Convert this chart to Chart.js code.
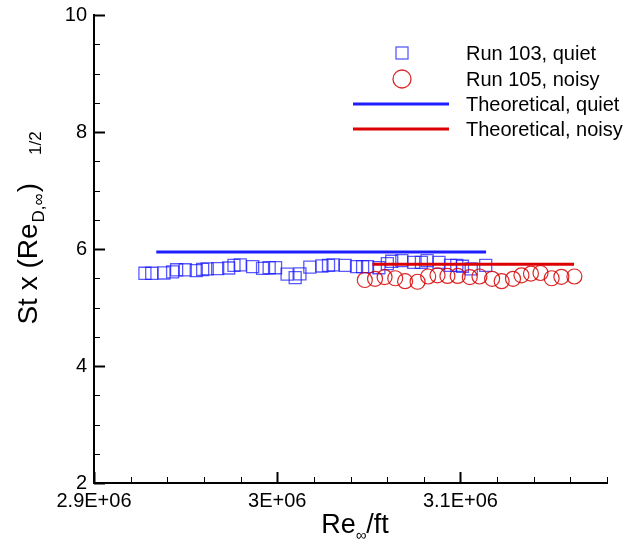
<!DOCTYPE html>
<html>
<head>
<meta charset="utf-8">
<script src="https://cdn.jsdelivr.net/npm/chart.js@4.4.0/dist/chart.umd.min.js"></script>
<style>
  html, body { margin: 0; padding: 0; background: #fff; }
</style>
</head>
<body>
<canvas id="canvas" width="634" height="550"></canvas>
<script>
// Run 103, quiet tunnel
let quietRe = [2.9278e6, 2.9315e6, 2.9382e6, 2.9429e6, 2.9451e6, 2.9498e6, 2.9558e6, 2.9593e6,
  2.9618e6, 2.9675e6, 2.9735e6, 2.9764e6, 2.9798e6, 2.9866e6, 2.992e6, 2.9956e6, 2.9991e6,
  3.0054e6, 3.0098e6, 3.0124e6, 3.0178e6, 3.0244e6, 3.028e6, 3.0305e6, 3.0371e6, 3.0433e6,
  3.0466e6, 3.0493e6, 3.0555e6, 3.0601e6, 3.0625e6, 3.068e6, 3.0745e6, 3.0787e6, 3.0818e6,
  3.0883e6, 3.0946e6, 3.098e6, 3.1011e6, 3.1059e6, 3.1138e6];
let quietSt = [5.585, 5.585, 5.59, 5.61, 5.645, 5.645, 5.63, 5.65,
  5.66, 5.665, 5.675, 5.72, 5.73, 5.7, 5.67, 5.68, 5.68,
  5.57, 5.51, 5.575, 5.69, 5.71, 5.72, 5.73, 5.72, 5.7,
  5.7, 5.7, 5.68, 5.75, 5.79, 5.8, 5.77, 5.77, 5.8,
  5.77, 5.72, 5.72, 5.705, 5.66, 5.72];

// Run 105, noisy tunnel
let noisyRe = [3.0478e6, 3.0534e6, 3.0586e6, 3.0644e6, 3.0698e6, 3.0766e6, 3.0824e6, 3.0875e6,
  3.0929e6, 3.0985e6, 3.1051e6, 3.1104e6, 3.1173e6, 3.1225e6, 3.1287e6, 3.1333e6, 3.1385e6,
  3.1437e6, 3.1498e6, 3.1551e6, 3.1622e6];
let noisySt = [5.47, 5.49, 5.52, 5.5, 5.45, 5.44, 5.53, 5.55,
  5.54, 5.54, 5.52, 5.53, 5.49, 5.45, 5.49, 5.55, 5.58,
  5.59, 5.5, 5.525, 5.53];

// theory lines
let theoryQuietRe = [2.934e6, 3.114e6];
let theoryQuietSt = [5.95, 5.95];
let theoryNoisyRe = [3.052e6, 3.162e6];
let theoryNoisySt = [5.74, 5.74];

let xTicks = [2.9e6, 3.0e6, 3.1e6];
let yTicks = [2, 4, 6, 8, 10];
let legendLabels = ["Run 103, quiet", "Run 105, noisy", "Theoretical, quiet", "Theoretical, noisy"];

const FONT = "'Liberation Sans', Arial, sans-serif";
const BLUE = "rgba(20, 20, 255, 0.7)";
const RED = "rgba(215, 0, 0, 0.85)";
const BLUE_LINE = "rgb(30, 30, 255)";
const RED_LINE = "rgb(220, 0, 0)";

function pairs(xs, ys) {
  let out = [];
  for (let i = 0; i < xs.length; i++) out.push({ x: xs[i], y: ys[i] });
  return out;
}

// inward tick marks on both axes
const tickMarks = {
  id: "tickMarks",
  afterDraw(chart) {
    let ctx = chart.ctx;
    let xs = chart.scales.x;
    let ys = chart.scales.y;
    let a = chart.chartArea;
    ctx.save();
    ctx.strokeStyle = "#000";
    for (let i = 0; i <= 14; i++) {
      let v = 2.9e6 + i * 2e4;
      let major = xTicks.some((t) => Math.abs(t - v) < 1);
      let px = Math.round(xs.getPixelForValue(v)) + 0.5;
      ctx.lineWidth = major ? 2 : 1;
      ctx.beginPath();
      ctx.moveTo(px, a.bottom);
      ctx.lineTo(px, a.bottom - (major ? 11 : 6));
      ctx.stroke();
    }
    for (let i = 0; i <= 16; i++) {
      let v = 2 + i * 0.5;
      let major = yTicks.indexOf(v) >= 0;
      let py = Math.round(ys.getPixelForValue(v)) + 0.5;
      ctx.lineWidth = major ? 2 : 1;
      ctx.beginPath();
      ctx.moveTo(a.left, py);
      ctx.lineTo(a.left + (major ? 11 : 6), py);
      ctx.stroke();
    }
    ctx.restore();
  },
};

// axis titles with sub/superscripts
function runs(ctx, parts, x, y) {
  for (let p of parts) {
    ctx.font = p.size + "px " + FONT;
    ctx.fillText(p.t, x, y + (p.dy || 0));
    x += ctx.measureText(p.t).width + (p.gap || 0);
  }
}
function runsWidth(ctx, parts) {
  let w = 0;
  for (let p of parts) {
    ctx.font = p.size + "px " + FONT;
    w += ctx.measureText(p.t).width + (p.gap || 0);
  }
  return w;
}

const axisTitles = {
  id: "axisTitles",
  afterDraw(chart) {
    let ctx = chart.ctx;
    ctx.save();
    ctx.fillStyle = "#000";
    ctx.textBaseline = "alphabetic";
    ctx.textAlign = "left";

    let xParts = [
      { t: "Re", size: 27 },
      { t: "\u221E", size: 15, dy: 7 },
      { t: "/ft", size: 27 },
    ];
    let xw = runsWidth(ctx, xParts);
    runs(ctx, xParts, 355 - xw / 2, 533);

    let yParts = [
      { t: "St x (Re", size: 28, gap: 1 },
      { t: "D,\u221E", size: 17, dy: 7, gap: 1 },
      { t: ")", size: 28, gap: 28 },
      { t: "1/2", size: 17, dy: 4 },
    ];
    let yw = runsWidth(ctx, yParts);
    ctx.translate(37, 228);
    ctx.rotate(-Math.PI / 2);
    runs(ctx, yParts, -yw / 2, 0);
    ctx.restore();
  },
};

// legend in the upper right of the plot
const legendBox = {
  id: "legendBox",
  afterDraw(chart) {
    let ctx = chart.ctx;
    let rows = [53, 79, 104, 129];
    ctx.save();
    ctx.font = "20px " + FONT;
    ctx.fillStyle = "#000";
    ctx.textBaseline = "middle";
    ctx.textAlign = "left";
    for (let i = 0; i < legendLabels.length; i++) {
      ctx.fillText(legendLabels[i], 466, rows[i] + 1);
    }
    ctx.lineWidth = 1.3;
    ctx.strokeStyle = BLUE;
    ctx.strokeRect(396, rows[0] - 6, 12, 12);
    ctx.strokeStyle = RED;
    ctx.beginPath();
    ctx.arc(402, rows[1], 9, 0, Math.PI * 2);
    ctx.stroke();
    ctx.lineWidth = 3;
    ctx.strokeStyle = BLUE_LINE;
    ctx.beginPath();
    ctx.moveTo(353, rows[2]);
    ctx.lineTo(449, rows[2]);
    ctx.stroke();
    ctx.strokeStyle = RED_LINE;
    ctx.beginPath();
    ctx.moveTo(353, rows[3]);
    ctx.lineTo(449, rows[3]);
    ctx.stroke();
    ctx.restore();
  },
};

let canvas = document.getElementById("canvas");
let stChart = new Chart(canvas.getContext("2d"), {
  type: "scatter",
  data: {
    datasets: [
      {
        label: legendLabels[2],
        type: "line",
        data: pairs(theoryQuietRe, theoryQuietSt),
        borderColor: BLUE_LINE,
        borderWidth: 3,
        pointRadius: 0,
        fill: false,
        order: 1,
      },
      {
        label: legendLabels[3],
        type: "line",
        data: pairs(theoryNoisyRe, theoryNoisySt),
        borderColor: RED_LINE,
        borderWidth: 3,
        pointRadius: 0,
        fill: false,
        order: 0,
      },
      {
        label: legendLabels[0],
        data: pairs(quietRe, quietSt),
        pointStyle: "rect",
        pointRadius: 8.5,
        borderColor: BLUE,
        backgroundColor: "rgba(0,0,0,0)",
        borderWidth: 1.3,
        order: 3,
      },
      {
        label: legendLabels[1],
        data: pairs(noisyRe, noisySt),
        pointStyle: "circle",
        pointRadius: 7.5,
        borderColor: RED,
        backgroundColor: "rgba(0,0,0,0)",
        borderWidth: 1.2,
        order: 2,
      },
    ],
  },
  options: {
    responsive: false,
    animation: false,
    layout: { padding: { top: 15, right: 27, left: 0, bottom: 0 } },
    plugins: {
      legend: { display: false },
      tooltip: { enabled: false },
    },
    scales: {
      x: {
        type: "linear",
        min: 2.9e6,
        max: 3.18e6,
        afterBuildTicks: (s) => { s.ticks = xTicks.map((v) => ({ value: v })); },
        afterFit: (s) => { s.height = 67; s.paddingLeft = 0; s.paddingRight = 0; },
        ticks: {
          color: "#000",
          font: { family: FONT, size: 20 },
          padding: 6,
          maxRotation: 0,
          autoSkip: false,
          callback: (v) => Math.round(v / 1e5) / 10 + "E+06",
        },
        grid: { display: false, drawTicks: false },
        border: { display: true, color: "#000", width: 2 },
      },
      y: {
        min: 2,
        max: 10,
        afterBuildTicks: (s) => { s.ticks = yTicks.map((v) => ({ value: v })); },
        afterFit: (s) => { s.width = 94; s.paddingTop = 0; s.paddingBottom = 0; },
        ticks: {
          color: "#000",
          font: { family: FONT, size: 20 },
          padding: 7,
          callback: (v) => String(v),
        },
        grid: { display: false, drawTicks: false },
        border: { display: true, color: "#000", width: 2 },
      },
    },
  },
  plugins: [tickMarks, axisTitles, legendBox],
});
</script>
</body>
</html>
